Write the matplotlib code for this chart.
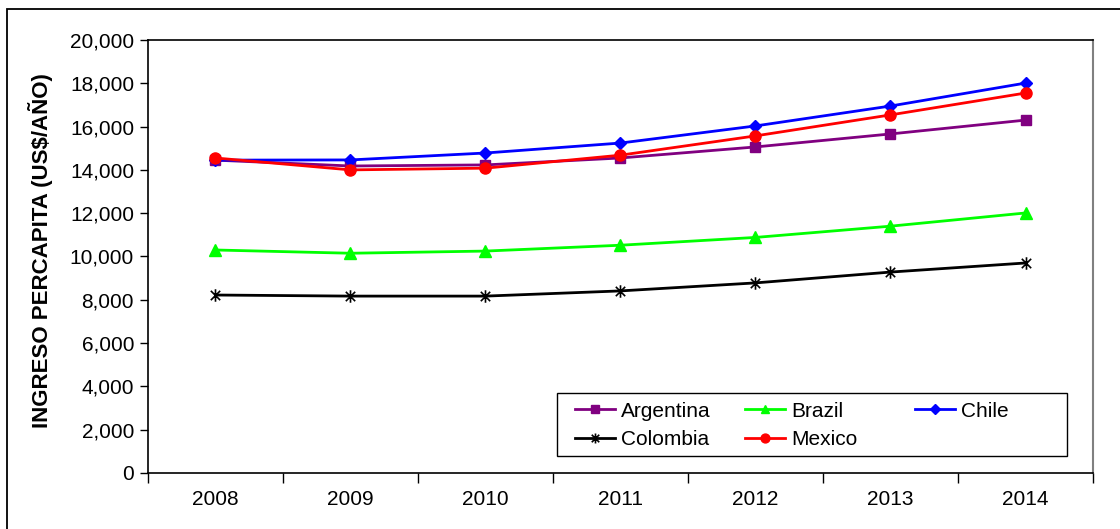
import matplotlib.pyplot as plt
from matplotlib.legend import Legend
from matplotlib.patches import Rectangle
from matplotlib.path import Path
from matplotlib.ticker import FuncFormatter, FixedLocator

plt.rcParams['font.family'] = ['Liberation Sans', 'DejaVu Sans']

years = ['2008', '2009', '2010', '2011', '2012', '2013', '2014']
argentina = [14450, 14180, 14230, 14550, 15060, 15660, 16300]
brazil = [10300, 10150, 10250, 10520, 10880, 11400, 12010]
chile = [14450, 14460, 14780, 15240, 16030, 16950, 18010]
colombia = [8220, 8170, 8170, 8410, 8780, 9280, 9700]
mexico = [14550, 14000, 14080, 14680, 15570, 16540, 17550]

# asterisco: línea vertical + X
star = Path([(0, -1), (0, 1), (-0.75, -0.75), (0.75, 0.75), (-0.75, 0.75), (0.75, -0.75)],
            [Path.MOVETO, Path.LINETO] * 3)

fig = plt.figure(figsize=(11.2, 5.29), dpi=100)
ax = fig.add_axes([0.1321, 0.1059, 0.8438, 0.8185])

# marco exterior del gráfico
fig.patches.append(Rectangle((7 / 1120, -0.1), 1.2, 1 - 9 / 529 + 0.1,
                             transform=fig.transFigure, fill=False,
                             edgecolor='black', linewidth=1.3))

x = list(range(len(years)))
lw = 2.0
ax.plot(x, argentina, color='#800080', marker='s', markersize=7, lw=lw, label='Argentina')
ax.plot(x, brazil, color='#00FF00', marker='^', markersize=8, lw=lw, label='Brazil')
ax.plot(x, chile, color='#0000FF', marker='D', markersize=6.5, lw=lw, label='Chile')
ax.plot(x, colombia, color='black', marker=star, markersize=9, markeredgewidth=1.2,
        lw=lw, label='Colombia')
ax.plot(x, mexico, color='#FF0000', marker='o', markersize=8, lw=lw, label='Mexico')

ax.set_xlim(-0.5, len(years) - 0.5)
ax.set_ylim(0, 20000)
ax.set_yticks(range(0, 20001, 2000))
ax.yaxis.set_major_formatter(FuncFormatter(lambda v, p: f'{int(v):,}'))

# marcas entre categorías, etiquetas en el centro
ax.xaxis.set_major_locator(FixedLocator([i - 0.5 for i in range(len(years) + 1)]))
ax.xaxis.set_minor_locator(FixedLocator(x))
ax.set_xticklabels([])
ax.set_xticklabels(years, minor=True)
ax.tick_params(axis='x', which='major', direction='out', length=7, width=1)
ax.tick_params(axis='x', which='minor', length=0, pad=12, labelsize=15)
ax.tick_params(axis='y', direction='out', length=6, width=1, labelsize=15, pad=4)

for s in ['left', 'bottom', 'top']:
    ax.spines[s].set_color('black')
    ax.spines[s].set_linewidth(1.2)
ax.spines['right'].set_color('#808080')
ax.spines['right'].set_linewidth(1.5)

ax.set_ylabel('INGRESO PERCAPITA (US$/AÑO)', fontsize=16, fontweight='bold', labelpad=12)
ax.yaxis.label.set_y(0.513)

# leyenda: tres columnas de igual ancho dentro de un recuadro
ax.add_patch(Rectangle((0.433, 0.039), 0.5395, 0.146, transform=ax.transAxes,
                       fill=False, edgecolor='black', linewidth=1.0, zorder=5))
handles, labels = ax.get_legend_handles_labels()
columns = [[0, 3], [1, 4], [2]]
col_x = [0.4518, 0.6317, 0.8116]
for cols, cx in zip(columns, col_x):
    leg = Legend(ax, [handles[i] for i in cols], [labels[i] for i in cols],
                 loc='upper left', bbox_to_anchor=(cx, 0.1645),
                 bbox_transform=ax.transAxes,
                 frameon=False, fontsize=15, borderpad=0, borderaxespad=0,
                 handlelength=1.9, handletextpad=0.3, labelspacing=0.45,
                 markerscale=0.8)
    ax.add_artist(leg)

fig.savefig('out.png', dpi=100)
